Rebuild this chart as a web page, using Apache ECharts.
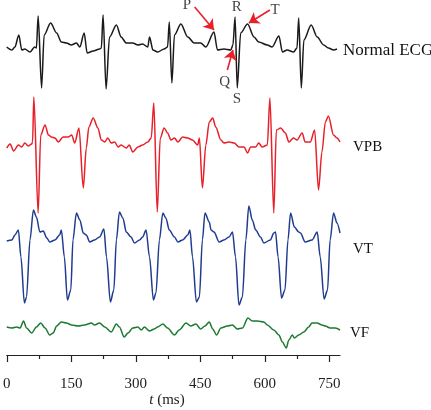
<!DOCTYPE html>
<html><head><meta charset="utf-8">
<script src="https://cdn.jsdelivr.net/npm/echarts@6/dist/echarts.min.js"></script>
<style>html,body{margin:0;padding:0;background:#fff}#c{width:431px;height:410px}</style>
</head><body><div id="c"></div>
<script>
// time (ms), amplitude (arbitrary units, relative to trace baseline)
const normalEcg = [[0,1],[12,-2],[19,1],[28,13],[35,-2],[42,-1],[54,-4],[65,1],[69,0],[73,32],[81,-40],[87,13],[102,25],[116,15],[127,6],[139,5],[150,3],[162,5],[170,1],[180,15],[187,-5],[201,-3],[216,-1],[220,0],[224,33],[231,-41],[239,11],[255,23],[266,11],[278,5],[293,5],[305,3],[316,4],[328,1],[332,11],[340,-2],[351,-4],[366,-1],[374,1],[378,26],[384,-35],[390,13],[405,24],[421,11],[436,5],[451,5],[463,1],[482,16],[490,-2],[505,-1],[521,-2],[526,3],[531,31],[536,-40],[544,15],[560,24],[575,11],[586,6],[606,3],[617,1],[633,12],[641,-4],[652,-2],[667,-4],[675,0],[679,30],[685,-40],[691,8],[708,23],[722,11],[737,3],[748,0],[760,-2],[768,-1]];
const vpb = [[0,-3],[8,1],[16,-6],[27,0],[35,-2],[42,2],[50,-1],[58,1],[60,3],[63,48],[73,-68],[79,10],[89,20],[97,10],[104,8],[112,7],[120,3],[131,8],[143,8],[151,10],[158,2],[168,17],[178,-43],[185,-3],[191,18],[201,27],[212,17],[220,5],[228,3],[235,7],[243,2],[251,3],[259,-2],[266,0],[278,-3],[285,0],[293,-7],[305,-2],[316,0],[328,3],[336,7],[342,42],[350,-67],[357,7],[366,17],[374,12],[382,5],[390,7],[398,3],[409,8],[421,7],[432,5],[444,0],[448,7],[455,-43],[463,0],[471,23],[479,27],[486,18],[498,5],[505,2],[517,3],[529,2],[540,-2],[552,-2],[560,-8],[567,-2],[579,-2],[586,2],[594,-2],[606,0],[612,47],[621,-68],[627,15],[637,17],[648,12],[656,3],[667,7],[675,5],[687,12],[694,3],[706,3],[716,15],[725,-45],[733,-7],[741,23],[748,29],[760,10],[768,7],[775,3]];
const vt = [[0,-1],[12,0],[19,5],[27,10],[33,-17],[41,-63],[46,-57],[54,0],[62,30],[69,23],[77,8],[85,9],[93,2],[100,-2],[112,0],[123,5],[127,10],[134,-17],[141,-60],[149,-50],[154,0],[162,27],[170,20],[178,7],[185,5],[193,-2],[204,0],[216,3],[226,11],[232,-17],[241,-62],[249,-50],[255,0],[262,28],[270,22],[278,8],[289,3],[297,-3],[309,0],[316,3],[324,10],[332,-17],[341,-60],[347,-53],[355,0],[363,27],[370,22],[378,10],[390,3],[398,-2],[409,0],[421,5],[426,10],[432,-17],[441,-62],[448,-57],[455,0],[461,27],[471,18],[475,10],[482,8],[494,-2],[505,0],[517,3],[525,8],[532,-17],[540,-65],[548,-57],[556,0],[563,34],[571,20],[579,10],[590,3],[598,-3],[613,0],[621,7],[625,8],[631,-17],[639,-58],[647,-50],[654,0],[660,27],[669,13],[679,8],[683,7],[694,-2],[710,0],[722,8],[729,-17],[738,-59],[746,-50],[752,0],[760,27],[768,17],[775,7]];
const vf = [[0,0],[12,-1],[23,0],[31,-1],[39,6],[46,-1],[58,-6],[69,0],[79,4],[89,-1],[100,-8],[108,-6],[116,1],[127,5],[139,4],[151,2],[166,1],[181,2],[197,4],[204,2],[216,4],[228,0],[243,-5],[255,3],[262,0],[273,-10],[282,-6],[293,-1],[305,0],[313,-3],[320,0],[332,-4],[343,-2],[351,0],[363,3],[374,-1],[390,-8],[401,-3],[417,4],[428,1],[440,3],[451,-2],[461,1],[471,5],[479,-2],[488,-8],[498,-1],[513,1],[525,2],[536,-2],[548,-1],[561,9],[571,6],[583,6],[598,5],[606,2],[621,-3],[633,-8],[641,-15],[650,-21],[656,-13],[664,-8],[669,-11],[679,-8],[691,-5],[702,0],[710,4],[722,4],[733,2],[741,1],[752,-1],[764,-1],[775,-3]];

const traceNames = ['Normal ECG', 'VPB', 'VT', 'VF'];
const traceOffsets = [307, 210, 115, 28];
const xTicks = [0, 150, 300, 450, 600, 750];
const xMinorTicks = [75, 225, 375, 525, 675];
const xTitle = '{i|t} (ms)';

// annotation letters and arrows (axis coordinates)
const annLetters = ['P', 'R', 'T', 'Q', 'S'];
const annT = [419, 535, 624, 507, 535];
const annY = [350, 348, 345, 273, 256];
const arrows = [[437, 348, 482, 325], [612, 345, 563, 332], [513, 285, 526, 305]];

const FONT = 'Liberation Serif';
const colors = ['#1a1a1a', '#e8202a', '#1f3c90', '#1e7a32'];
const traces = [normalEcg, vpb, vt, vf];
const labelPos = [[343, 51], [353, 147], [353, 249], [350, 333]];

const chart = echarts.init(document.getElementById('c'), null, {renderer: 'canvas'});
const series = traces.map((d, i) => ({
  type: 'line', name: traceNames[i],
  data: d.map(p => [p[0], p[1] + traceOffsets[i]]),
  showSymbol: false, smooth: 0.3, smoothMonotone: 'x', clip: false,
  lineStyle: {color: colors[i], width: 1.5}
}));
series.push({
  type: 'scatter', symbolSize: 1, itemStyle: {color: 'rgba(0,0,0,0)'},
  data: annT.map((t, i) => ({value: [t, annY[i]], label: {formatter: annLetters[i]}})),
  label: {show: true, position: 'inside', fontFamily: FONT, fontSize: 15, color: '#111'},
  markLine: {
    silent: true, symbol: ['none', 'arrow'], symbolSize: 10,
    lineStyle: {color: '#e8202a', width: 1.6, type: 'solid'}, label: {show: false},
    data: arrows.map(a => [{coord: [a[0], a[1]]}, {coord: [a[2], a[3]]}])
  }
});

const axisColor = '#222';
const graphics = traceNames.map((s, i) => ({
  type: 'text', x: labelPos[i][0], y: labelPos[i][1],
  style: {text: s, fontFamily: FONT, fontSize: i === 0 ? 17 : 15, fill: '#111', verticalAlign: 'middle'}
}));
graphics.push({
  type: 'text', x: 167, y: 400,
  style: {text: xTitle, fontFamily: FONT, fontSize: 15, fill: axisColor, align: 'center', verticalAlign: 'middle',
    rich: {i: {fontStyle: 'italic', fontFamily: FONT, fontSize: 15, fill: axisColor}}}
});

chart.setOption({
  animation: false,
  grid: {left: 5, right: 91, top: 0, bottom: 55},
  xAxis: [{
    type: 'value', min: 0, max: 775, interval: 150,
    axisLine: {show: true, lineStyle: {color: axisColor, width: 1.2}},
    axisTick: {show: true, length: 7, customValues: xTicks, lineStyle: {color: axisColor, width: 1.2}},
    minorTick: {show: false},
    splitLine: {show: false},
    axisLabel: {fontFamily: FONT, fontSize: 15, color: axisColor, margin: 12, padding: [10, 0, 0, 0], customValues: xTicks}
  }, {
    type: 'value', min: 0, max: 775, position: 'bottom', offset: 0,
    axisLine: {show: false},
    axisTick: {show: true, length: 4, customValues: xMinorTicks, lineStyle: {color: axisColor, width: 1.2}},
    axisLabel: {show: false}, splitLine: {show: false}
  }],
  yAxis: {type: 'value', min: 0, max: 355, show: false},
  graphic: graphics,
  series: series
});
</script></body></html>
